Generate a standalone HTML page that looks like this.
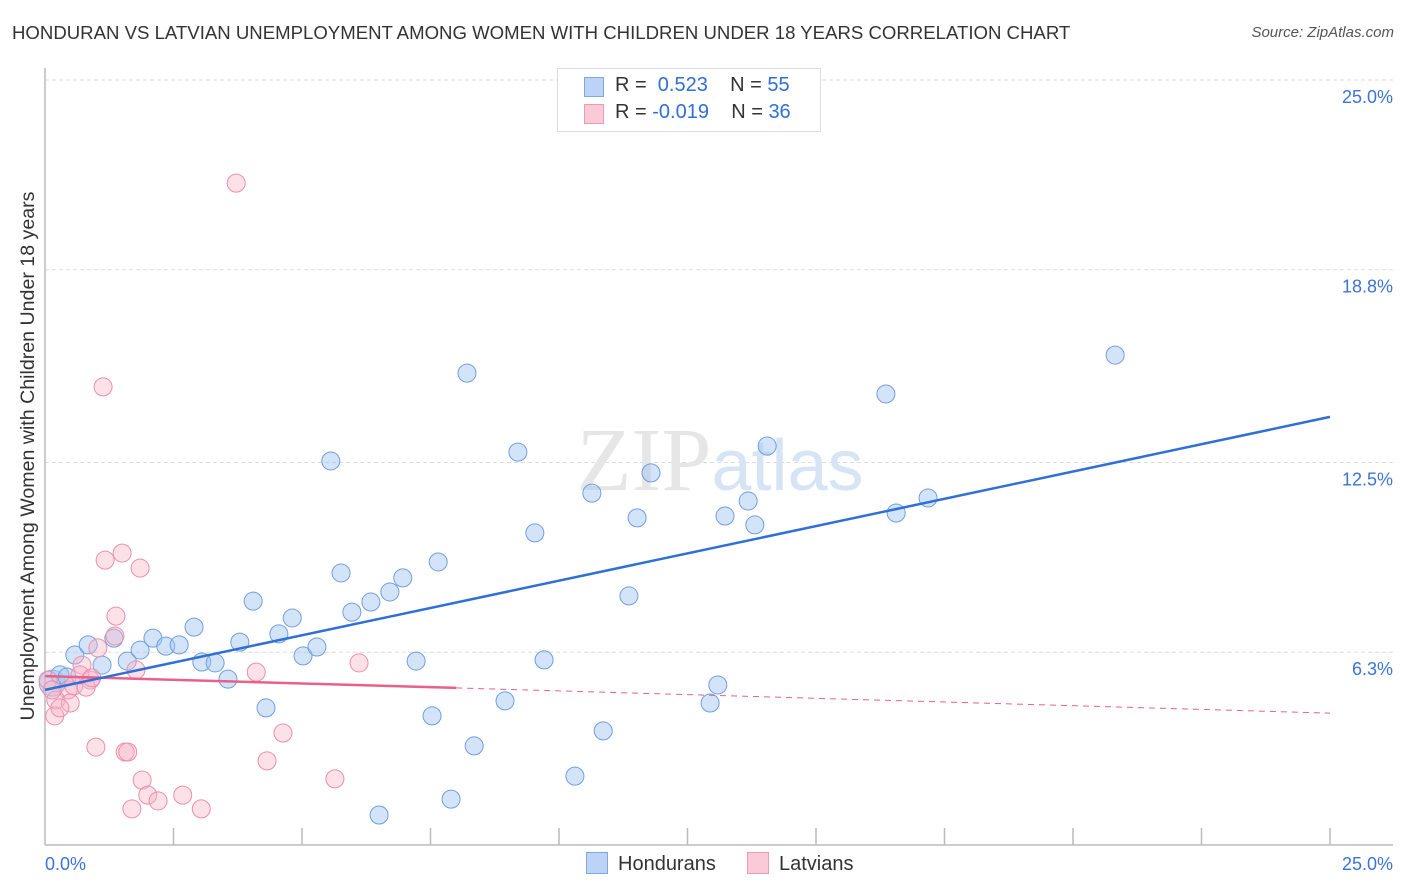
<!DOCTYPE html>
<html><head><meta charset="utf-8">
<style>
body{margin:0;background:#fff;font-family:"Liberation Sans",sans-serif;}
#wrap{position:relative;width:1406px;height:892px;overflow:hidden;}
.t{position:absolute;white-space:nowrap;}
</style></head>
<body>
<div id="wrap">
<div class="t" style="left:12px;top:22px;font-size:18.6px;color:#333;">HONDURAN VS LATVIAN UNEMPLOYMENT AMONG WOMEN WITH CHILDREN UNDER 18 YEARS CORRELATION CHART</div>
<div class="t" style="right:12px;top:24px;font-size:15px;color:#555;font-style:italic;">Source: ZipAtlas.com</div>
<svg id="plot" width="1406" height="892" style="position:absolute;left:0;top:0"></svg>
</div>
<script>
const yTicks=[25.0,18.8,12.5,6.3];
const yTickLabels=["25.0%","18.8%","12.5%","6.3%"];
const hondX=[0.58,0.84,1.11,1.34,1.60,1.85,2.10,2.35,2.61,2.90,3.05,3.31,3.56,3.79,4.05,4.30,4.55,4.81,5.02,5.29,5.56,5.76,5.97,6.34,6.71,6.96,7.22,7.53,7.65,7.90,8.21,8.35,8.95,9.20,9.53,9.71,10.31,10.64,10.86,11.36,11.52,11.79,12.94,13.09,13.23,13.68,13.81,14.05,16.36,16.56,17.18,20.82,6.50,0.29,0.43];
const hondY=[6.21,6.54,5.88,6.76,6.01,6.37,6.76,6.50,6.54,7.12,5.98,5.95,5.42,6.63,7.97,4.48,6.90,7.42,6.18,6.47,12.55,8.89,7.61,7.94,8.27,8.73,6.01,4.22,9.25,1.50,15.42,3.24,4.71,12.84,10.20,6.05,2.25,11.50,3.73,8.14,10.69,12.16,4.64,5.23,10.75,11.24,10.46,13.04,14.74,10.85,11.34,16.01,0.98,5.56,5.49];
const latX=[3.72,1.13,1.17,1.50,1.85,1.38,1.36,1.03,0.72,0.88,0.45,0.56,0.21,0.19,0.49,0.29,1.77,0.99,1.56,1.61,4.11,4.32,4.63,6.11,5.64,1.89,2.00,2.20,1.69,2.68,3.04,0.80,0.06,0.68,0.91,0.14];
const latY=[21.63,14.97,9.31,9.54,9.05,7.48,6.83,6.44,5.88,5.39,5.07,5.20,4.74,4.22,4.64,4.48,5.72,3.20,3.04,3.04,5.65,2.75,3.66,5.95,2.16,2.12,1.63,1.44,1.18,1.63,1.18,5.16,5.39,5.56,5.46,5.07];
const hondTrend=[5.07,13.99];
const latTrend=[5.52,4.31];
const latSolidEnd=8.0;

const NS="http://www.w3.org/2000/svg";
const svg=document.getElementById('plot');
const X0=45,X1=1330,Y0=845,Ytop=80;
const sx=v=>X0+v*(X1-X0)/25;
const sy=v=>Y0-v*(Y0-Ytop)/25;
function mk(tag,attrs,parent){const e=document.createElementNS(NS,tag);for(const k in attrs)e.setAttribute(k,attrs[k]);(parent||svg).appendChild(e);return e;}

yTicks.forEach((t,i)=>{
 const g=mk('line',{x1:X0,x2:1393,y1:sy(t),y2:sy(t),stroke:'#ddd','stroke-dasharray':'4,3'});
 
 
 const tx=mk('text',{x:1393,y:sy(t)+23,'text-anchor':'end','font-size':18,fill:'#3b74d4','font-family':'Liberation Sans, sans-serif'});
 tx.textContent=yTickLabels[i];
 
 
});
const ya=mk('line',{x1:X0,x2:X0,y1:68,y2:Y0,stroke:'#bbb','stroke-width':1.5});


const xa=mk('line',{x1:X0,x2:1393,y1:Y0,y2:Y0,stroke:'#bbb','stroke-width':1.5});


for(let i=1;i<=10;i++){const tk=mk('line',{x1:sx(i*2.5),x2:sx(i*2.5),y1:828,y2:Y0,stroke:'#bbb','stroke-width':1.5});
 
 }
const xl0=mk('text',{x:45,y:870,'font-size':18,fill:'#3b74d4','font-family':'Liberation Sans, sans-serif'});xl0.textContent='0.0%';


const xl1=mk('text',{x:1393,y:870,'text-anchor':'end','font-size':18,fill:'#3b74d4','font-family':'Liberation Sans, sans-serif'});xl1.textContent='25.0%';


const wm=mk('text',{x:720,y:490,'text-anchor':'middle','font-size':90,fill:'#e6e6e6','font-family':'Liberation Serif, serif'});
wm.innerHTML='ZIP<tspan fill="#d6e4f5" font-family="Liberation Sans, sans-serif" font-size="72">atlas</tspan>';


const yt=mk('text',{x:0,y:0,transform:'translate(34,456) rotate(-90)','text-anchor':'middle','font-size':19.6,fill:'#333','font-family':'Liberation Sans, sans-serif'});
yt.textContent='Unemployment Among Women with Children Under 18 years';


mk('circle',{cx:sx(0.14),cy:sy(5.29),r:13,fill:'rgba(160,190,235,0.5)',stroke:'#8aaee0'});
hondX.forEach((x,i)=>{const c=mk('circle',{cx:sx(x),cy:sy(hondY[i]),r:9,fill:'rgba(160,195,240,0.45)',stroke:'#6f9fe0','stroke-width':1});
 
 });
latX.forEach((x,i)=>{const c=mk('circle',{cx:sx(x),cy:sy(latY[i]),r:9,fill:'rgba(248,180,200,0.4)',stroke:'#ec8fab','stroke-width':1});
 
 });
const ly=x=>latTrend[0]+(latTrend[1]-latTrend[0])*x/25;
const tl1=mk('line',{x1:sx(0),y1:sy(latTrend[0]),x2:sx(latSolidEnd),y2:sy(ly(latSolidEnd)),stroke:'#e8608b','stroke-width':2.5});


const tl2=mk('line',{x1:sx(latSolidEnd),y1:sy(ly(latSolidEnd)),x2:sx(25),y2:sy(latTrend[1]),stroke:'#e8608b','stroke-width':1,'stroke-dasharray':'6,5'});


const th=mk('line',{x1:sx(0),y1:sy(hondTrend[0]),x2:sx(25),y2:sy(hondTrend[1]),stroke:'#2f6fd6','stroke-width':2.5});


</script>
<div class="t" style="left:557px;top:68px;width:262px;height:62px;border:1px solid #ddd;background:#fff;font-size:20px;color:#333;">
 <div style="position:absolute;left:26px;top:8px;width:18px;height:18px;background:#bcd3f5;border:1px solid #7fa7e6;"></div>
 <div style="position:absolute;left:57px;top:5px;">R = &nbsp;<span style="color:#2f6fd6">0.523</span>&nbsp;&nbsp;&nbsp; N = <span style="color:#2f6fd6">55</span></div>
 <div style="position:absolute;left:26px;top:35px;width:18px;height:18px;background:#fbcad8;border:1px solid #ee9ab3;"></div>
 <div style="position:absolute;left:57px;top:32px;">R = <span style="color:#2f6fd6">-0.019</span>&nbsp;&nbsp;&nbsp; N = <span style="color:#2f6fd6">36</span></div>
</div>
<div class="t" style="left:586px;top:852px;font-size:20px;color:#333;"><span style="display:inline-block;width:20px;height:20px;background:#bcd3f5;border:1px solid #7fa7e6;vertical-align:-4px;margin-right:10px;"></span>Hondurans</div>
<div class="t" style="left:747px;top:852px;font-size:20px;color:#333;"><span style="display:inline-block;width:20px;height:20px;background:#fbcad8;border:1px solid #ee9ab3;vertical-align:-4px;margin-right:10px;"></span>Latvians</div>
</body></html>
